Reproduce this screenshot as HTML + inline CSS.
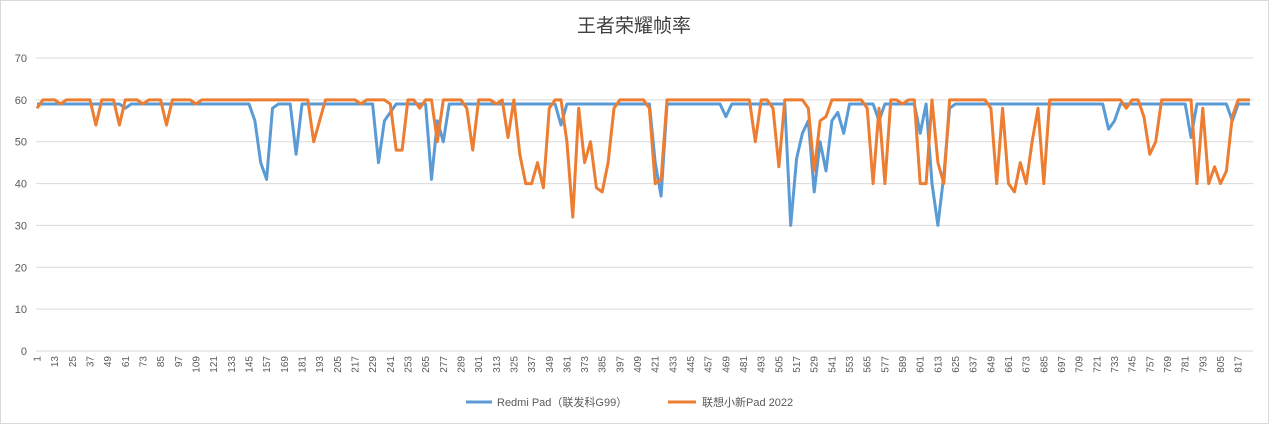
<!DOCTYPE html>
<html><head><meta charset="utf-8"><style>
body{margin:0;background:#fff}
svg{display:block;font-family:"Liberation Sans","Noto Sans CJK SC",sans-serif}
</style></head><body>
<svg id="chart" width="1269" height="424">
<rect x="0.5" y="0.5" width="1268" height="423" fill="#fff" stroke="#d9d9d9"/>
<text x="634" y="32" text-anchor="middle" font-size="19" fill="#404040" font-family="Liberation Sans, Noto Sans CJK SC, sans-serif">王者荣耀帧率</text>
<g id="grid"></g><g id="yt"></g><g id="xt"></g><g id="series"></g>
<g>
<line x1="466" y1="402" x2="492" y2="402" stroke="#5B9BD5" stroke-width="3"/>
<text x="497" y="406" font-size="11" fill="#595959">Redmi Pad（联发科G99）</text>
<line x1="668" y1="402" x2="696" y2="402" stroke="#ED7D31" stroke-width="3"/>
<text x="702" y="406" font-size="11" fill="#595959">联想小新Pad 2022</text>
</g>
</svg>
<script>
const yTicks=[0,10,20,30,40,50,60,70];
const sampleStep=4;
const redmi=[59,59,59,59,59,59,59,59,59,59,
59,59,59,59,59,58,59,59,59,59,
59,59,59,59,59,59,59,59,59,59,
59,59,59,59,59,59,59,55,45,41,
58,59,59,59,47,59,59,59,59,59,
59,59,59,59,59,59,59,59,45,55,
57,59,59,59,59,59,59,41,55,50,
59,59,59,59,59,59,59,59,59,59,
59,59,59,59,59,59,59,59,59,54,
59,59,59,59,59,59,59,59,59,59,
59,59,59,59,59,45,37,59,59,59,
59,59,59,59,59,59,59,56,59,59,
59,59,59,59,59,59,59,59,30,46,
52,55,38,50,43,55,57,52,59,59,
59,59,59,55,59,59,59,59,59,59,
52,59,40,30,42,58,59,59,59,59,
59,59,59,59,59,59,59,59,59,59,
59,59,59,59,59,59,59,59,59,59,
59,59,53,55,59,59,59,59,59,59,
59,59,59,59,59,59,51,59,59,59,
59,59,59,55,59,59,59];
const lenovo=[58,60,60,60,59,60,60,60,60,60,
54,60,60,60,54,60,60,60,59,60,
60,60,54,60,60,60,60,59,60,60,
60,60,60,60,60,60,60,60,60,60,
60,60,60,60,60,60,60,50,55,60,
60,60,60,60,60,59,60,60,60,60,
59,48,48,60,60,58,60,60,50,60,
60,60,60,58,48,60,60,60,59,60,
51,60,47,40,40,45,39,58,60,60,
50,32,58,45,50,39,38,45,58,60,
60,60,60,60,58,40,41,60,60,60,
60,60,60,60,60,60,60,60,60,60,
60,60,50,60,60,58,44,60,60,60,
60,58,43,55,56,60,60,60,60,60,
60,58,40,58,40,60,60,59,60,60,
40,40,60,45,40,60,60,60,60,60,
60,60,58,40,58,40,38,45,40,50,
58,40,60,60,60,60,60,60,60,60,
60,60,60,60,60,58,60,60,56,47,
50,60,60,60,60,60,60,40,58,40,
44,40,43,56,60,60,60];
const NS='http://www.w3.org/2000/svg';
const L=36,R=1253,Y0=351,Y70=58;
const y=v=>Y0-(v/70)*(Y0-Y70);
const x=c=>37+(c-1)*1.472;
function mk(t,a,p){const e=document.createElementNS(NS,t);for(const k in a)e.setAttribute(k,a[k]);p.appendChild(e);return e;}
const grid=document.getElementById('grid'),yt=document.getElementById('yt'),xt=document.getElementById('xt'),sg=document.getElementById('series');
yTicks.forEach(v=>{
 const g=mk('line',{x1:L,x2:R,y1:y(v),y2:y(v),stroke:'#d9d9d9','stroke-width':1},grid);
 
 
 const t=mk('text',{x:27,y:y(v)+4,'text-anchor':'end','font-size':11,fill:'#595959'},yt);
 t.textContent=v;
 
 
});
const nCat=(redmi.length-1)*sampleStep+1;
for(let c=1;c<=nCat;c+=12){
 const px=x(c);
 const t=mk('text',{x:0,y:0,'text-anchor':'end','font-size':10,fill:'#595959',transform:`translate(${px+3.5},356) rotate(-90)`},xt);
 t.textContent=c;
 
 
}
function line(arr,col,name){
 const pts=arr.map((v,i)=>x(1+i*sampleStep).toFixed(1)+','+y(v).toFixed(1)).join(' ');
 const p=mk('polyline',{points:pts,fill:'none',stroke:col,'stroke-width':3,'stroke-linejoin':'round'},sg);
 
 
}
line(redmi,'#5B9BD5','series-redmi-pad');
line(lenovo,'#ED7D31','series-lenovo-pad-2022');
</script>
</body></html>
